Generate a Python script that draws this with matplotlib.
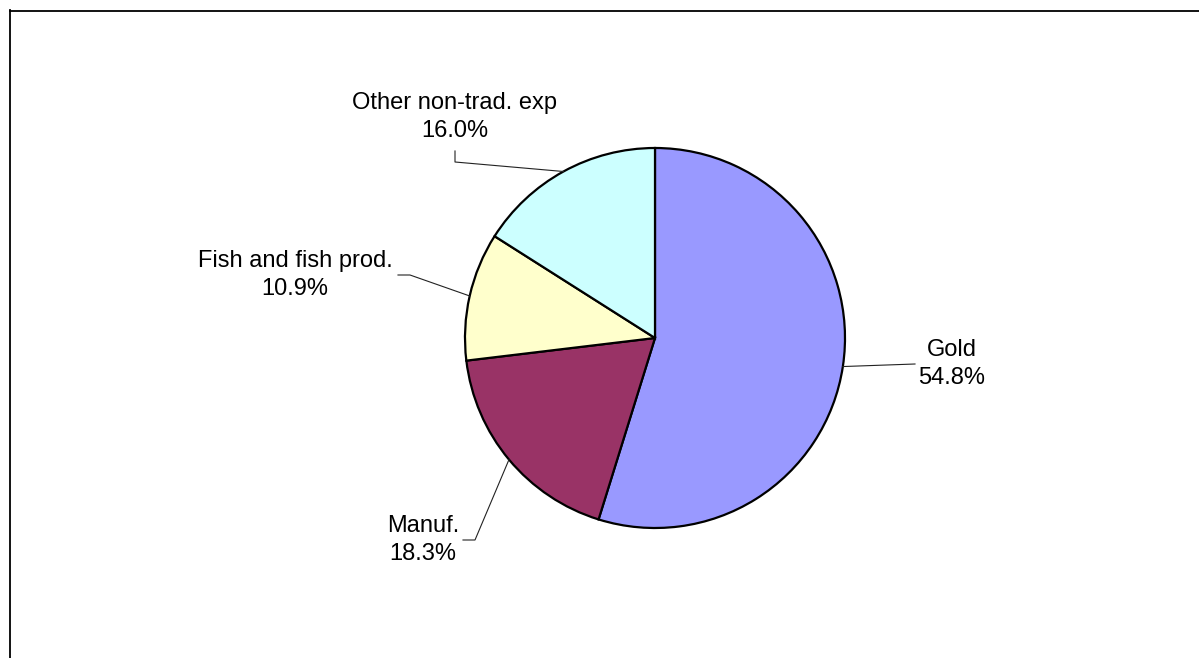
import numpy as np
import matplotlib
matplotlib.use("Agg")
import matplotlib.pyplot as plt
from matplotlib.lines import Line2D

categories = ["Gold", "Manuf.", "Fish and fish prod.", "Other non-trad. exp"]
values = [54.8, 18.3, 10.9, 16.0]
colors = ["#9999FF", "#993366", "#FFFFCC", "#CCFFFF"]

W, H = 1199, 658
fig = plt.figure(figsize=(W / 100, H / 100), dpi=100)
ax = fig.add_axes([0, 0, 1, 1])

cx, cy, R = 655, H - 338, 190
wedges, _ = ax.pie(values, colors=colors, startangle=90, counterclock=False,
                   center=(cx, cy), radius=R, frame=True,
                   wedgeprops=dict(edgecolor="black", linewidth=1.6))
ax.set_xlim(0, W)
ax.set_ylim(0, H)
ax.axis("off")

# label layout (pixel positions from top-left): text center, leader elbow points
layout = {
    "Gold": dict(text=(952, 364), elbow=[(915, 364)]),
    "Manuf.": dict(text=(423, 540), elbow=[(475, 540), (463, 540)]),
    "Fish and fish prod.": dict(text=(295, 275), elbow=[(410, 275), (398, 275)]),
    "Other non-trad. exp": dict(text=(455, 117), elbow=[(455, 162), (455, 151)]),
}

font = ["Liberation Sans", "DejaVu Sans"]
for w, cat, v in zip(wedges, categories, values):
    mid = np.deg2rad((w.theta1 + w.theta2) / 2)
    ex, ey = cx + R * np.cos(mid), cy + R * np.sin(mid)
    lay = layout[cat]
    pts = [(ex, ey)] + [(x, H - y) for x, y in lay["elbow"]]
    xs, ys = zip(*pts)
    ax.add_line(Line2D(xs, ys, color="#222222", lw=0.8))
    tx, ty = lay["text"]
    ax.text(tx, H - ty, f"{cat}\n{v:.1f}%", ha="center", va="center",
            fontsize=17, family=font, linespacing=1.36)

# chart area frame (top and left edges visible)
fig.add_artist(Line2D([10 / W, 1], [1 - 10.5 / H, 1 - 10.5 / H], color="black", lw=1.3,
                      transform=fig.transFigure))
fig.add_artist(Line2D([10.5 / W, 10.5 / W], [0, 1 - 10 / H], color="black", lw=1.3,
                      transform=fig.transFigure))

fig.savefig("out.png", dpi=100, facecolor="white")
